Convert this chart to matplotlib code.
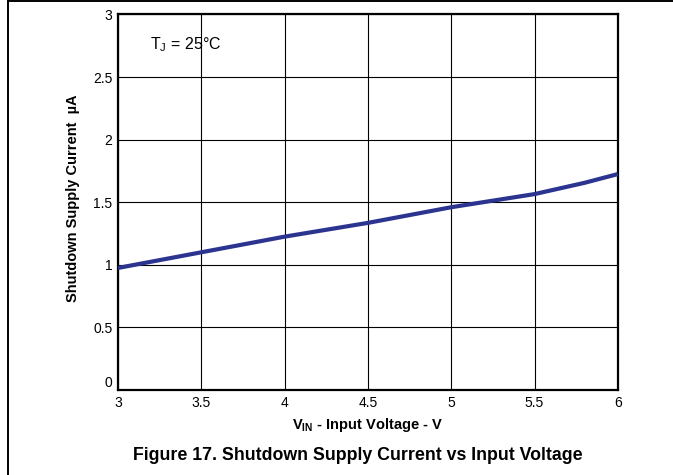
import matplotlib
matplotlib.use('Agg')
import matplotlib.pyplot as plt
from matplotlib.lines import Line2D

plt.rcParams['font.family'] = ['Liberation Sans', 'DejaVu Sans']
plt.rcParams['mathtext.fontset'] = 'custom'
plt.rcParams['mathtext.rm'] = 'Liberation Sans'
plt.rcParams['mathtext.bf'] = 'Liberation Sans:bold'

vin = [3.0, 3.5, 4.0, 4.25, 4.5, 5.0, 5.5, 5.8, 6.0]
i_sd = [0.975, 1.10, 1.225, 1.28, 1.335, 1.46, 1.565, 1.655, 1.725]

x_ticks = [3, 3.5, 4, 4.5, 5, 5.5, 6]
x_labels = ['3', '3.5', '4', '4.5', '5', '5.5', '6']
y_ticks = [0, 0.5, 1, 1.5, 2, 2.5, 3]
y_labels = ['0', '0.5', '1', '1.5', '2', '2.5', '3']

fig = plt.figure(figsize=(6.73, 4.75), dpi=100)
ax = fig.add_axes([0.1753, 0.179, 0.7427, 0.7905])

ax.plot(vin, i_sd, color='#2b3590', lw=3.0, solid_capstyle='butt', zorder=3)

ax.set_xlim(3, 6)
ax.set_ylim(0, 3)
ax.set_xticks(x_ticks)
ax.set_xticklabels(x_labels)
ax.set_yticks(y_ticks)
ax.set_yticklabels(y_labels)
ax.tick_params(length=0, labelsize=10, pad=4)
ax.tick_params(axis='x', pad=4)
ax.get_yticklabels()[0].set_va('bottom')
ax.grid(True, color='black', lw=0.8)
for s in ax.spines.values():
    s.set_linewidth(1.6)

ax.set_xlabel(r'V$_\mathbf{IN}$ - Input Voltage - V', fontsize=10.5,
              fontweight='bold', labelpad=5)
ax.set_ylabel('Shutdown Supply Current  \u00b5A', fontsize=10.5,
              fontweight='bold')
ax.yaxis.set_label_coords(-0.076, 0.51)

ax.text(3.19, 2.76, 'T$_\\mathregular{J}$ = 25\u00b0C',
        fontsize=11.5, va='center', ha='left')

fig.text(0.532, 0.042, 'Figure 17. Shutdown Supply Current vs Input Voltage',
         fontsize=12.8, fontweight='bold', ha='center', va='center')

# outer frame (top and left edge only visible)
fig.add_artist(Line2D([0.0112, 1.0], [0.998, 0.998], color='black', lw=1.4,
                      transform=fig.transFigure))
fig.add_artist(Line2D([0.0112, 0.0112], [0.0, 0.998], color='black', lw=1.4,
                      transform=fig.transFigure))

fig.savefig('out.png', dpi=100)
